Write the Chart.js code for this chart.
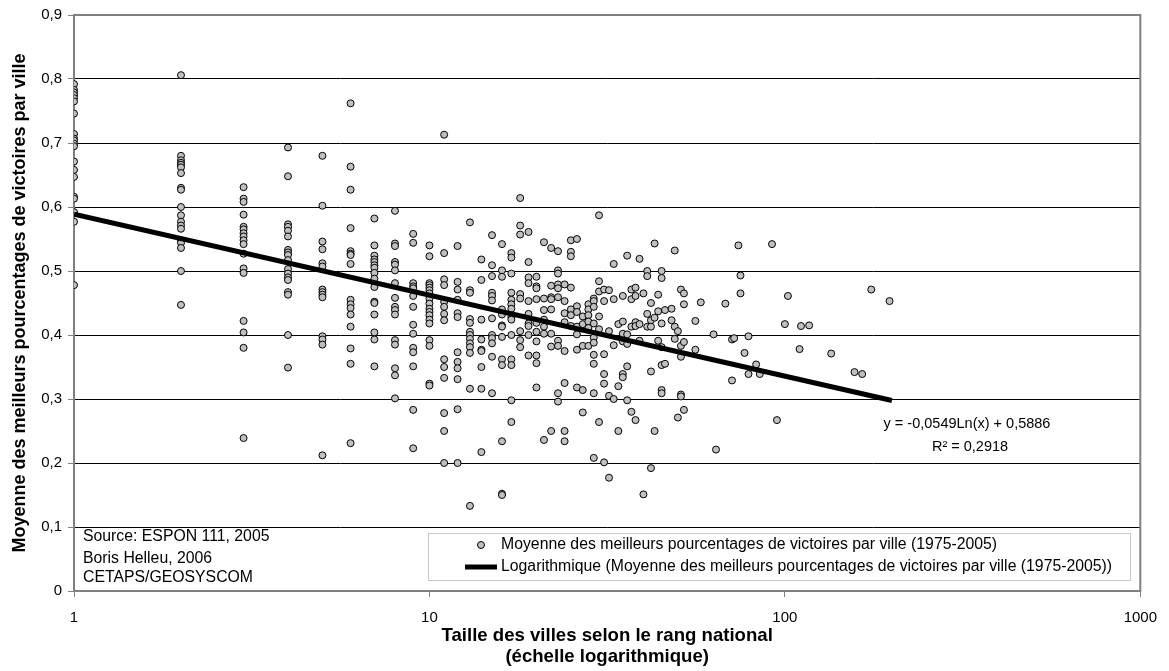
<!DOCTYPE html>
<html lang="fr">
<head>
<meta charset="utf-8">
<title>Moyenne des meilleurs pourcentages de victoires par ville</title>
<script src="https://cdn.jsdelivr.net/npm/chart.js@4.4.1/dist/chart.umd.min.js"></script>
<style>
    html, body { margin: 0; padding: 0; background: #fff; }
    canvas { display: block; }
</style>
</head>
<body>
<canvas id="graphique" width="1169" height="671"></canvas>
<script>
// === DONNÉES ===
// rang national de la ville (échelle log) et moyennes observées pour ce rang
const rangs = [1, 2, 3, 4, 5, 6, 7, 8, 9, 10, 11, 12, 13, 14, 15, 16, 17, 18, 19, 20,
    21, 22, 23, 24, 25, 26, 27, 28, 29, 30, 31, 32, 33, 34, 35, 36, 37, 38, 39, 40,
    41, 42, 43, 44, 45, 46, 48, 49, 50, 51, 52, 56, 58, 63, 64, 68, 71, 72, 74, 75,
    77, 79, 83, 85, 92, 95, 100, 102, 110, 111, 117, 135, 157, 165, 175, 197];

const moyennes = [
    [0.792, 0.783, 0.779, 0.775, 0.770, 0.765, 0.746, 0.714, 0.707, 0.704, 0.699, 0.695, 0.671, 0.658, 0.647, 0.616, 0.613, 0.592, 0.577, 0.478],
    [0.806, 0.680, 0.673, 0.669, 0.666, 0.662, 0.653, 0.630, 0.627, 0.600, 0.587, 0.577, 0.571, 0.566, 0.548, 0.544, 0.536, 0.500, 0.447],
    [0.631, 0.613, 0.608, 0.588, 0.569, 0.565, 0.559, 0.554, 0.548, 0.542, 0.527, 0.504, 0.497, 0.422, 0.404, 0.380, 0.239],
    [0.693, 0.648, 0.573, 0.569, 0.563, 0.554, 0.533, 0.529, 0.525, 0.517, 0.503, 0.496, 0.490, 0.486, 0.467, 0.463, 0.400, 0.349],
    [0.680, 0.602, 0.546, 0.534, 0.512, 0.507, 0.471, 0.467, 0.463, 0.459, 0.398, 0.393, 0.385, 0.212],
    [0.762, 0.663, 0.627, 0.567, 0.531, 0.527, 0.525, 0.511, 0.455, 0.448, 0.442, 0.432, 0.413, 0.379, 0.355, 0.231],
    [0.582, 0.540, 0.524, 0.518, 0.514, 0.509, 0.505, 0.497, 0.488, 0.475, 0.452, 0.450, 0.432, 0.404, 0.393, 0.351],
    [0.594, 0.543, 0.539, 0.514, 0.510, 0.501, 0.481, 0.458, 0.444, 0.439, 0.432, 0.392, 0.385, 0.348, 0.337, 0.301],
    [0.558, 0.544, 0.481, 0.476, 0.473, 0.461, 0.444, 0.416, 0.402, 0.380, 0.373, 0.351, 0.283, 0.223],
    [0.540, 0.523, 0.481, 0.478, 0.474, 0.470, 0.465, 0.457, 0.449, 0.441, 0.436, 0.431, 0.424, 0.418, 0.392, 0.383, 0.324, 0.321],
    [0.713, 0.528, 0.487, 0.478, 0.452, 0.444, 0.433, 0.423, 0.362, 0.350, 0.333, 0.278, 0.250, 0.200],
    [0.539, 0.483, 0.471, 0.455, 0.434, 0.428, 0.373, 0.358, 0.348, 0.331, 0.284, 0.200],
    [0.576, 0.470, 0.466, 0.425, 0.419, 0.405, 0.400, 0.394, 0.387, 0.381, 0.372, 0.316, 0.133],
    [0.518, 0.486, 0.424, 0.393, 0.377, 0.375, 0.350, 0.316, 0.217],
    [0.556, 0.509, 0.492, 0.466, 0.461, 0.454, 0.426, 0.400, 0.395, 0.387, 0.366, 0.309],
    [0.542, 0.501, 0.491, 0.440, 0.432, 0.415, 0.413, 0.397, 0.362, 0.353, 0.234, 0.152, 0.150],
    [0.528, 0.521, 0.496, 0.466, 0.455, 0.448, 0.441, 0.428, 0.424, 0.400, 0.362, 0.353, 0.298, 0.264],
    [0.614, 0.571, 0.557, 0.464, 0.457, 0.406, 0.392, 0.381],
    [0.561, 0.514, 0.490, 0.481, 0.453, 0.433, 0.418, 0.414, 0.400, 0.368],
    [0.491, 0.476, 0.473, 0.456, 0.419, 0.405, 0.390, 0.368, 0.356, 0.318],
    [0.545, 0.457, 0.439, 0.424, 0.413, 0.402, 0.236],
    [0.536, 0.477, 0.459, 0.456, 0.440, 0.402, 0.382, 0.250],
    [0.531, 0.501, 0.496, 0.479, 0.473, 0.459, 0.391, 0.383, 0.309, 0.296],
    [0.479, 0.453, 0.434, 0.420, 0.375, 0.325, 0.250, 0.234],
    [0.548, 0.530, 0.523, 0.474, 0.440, 0.431, 0.414],
    [0.550, 0.445, 0.436, 0.413, 0.401, 0.377, 0.318],
    [0.429, 0.417, 0.383, 0.314, 0.279],
    [0.448, 0.440, 0.431, 0.421, 0.411, 0.383],
    [0.457, 0.453, 0.444, 0.418, 0.396, 0.388, 0.369, 0.355, 0.309, 0.208],
    [0.587, 0.484, 0.468, 0.429, 0.409, 0.264],
    [0.471, 0.453, 0.370, 0.339, 0.324, 0.201],
    [0.470, 0.406, 0.305, 0.177],
    [0.511, 0.456, 0.384, 0.300],
    [0.417, 0.320, 0.250],
    [0.461, 0.421, 0.402, 0.390, 0.339, 0.334],
    [0.524, 0.401, 0.386, 0.351, 0.298],
    [0.471, 0.456, 0.413, 0.280],
    [0.474, 0.461, 0.420, 0.414, 0.267],
    [0.519, 0.417, 0.391],
    [0.465, 0.151],
    [0.500, 0.492, 0.433, 0.413],
    [0.450, 0.423, 0.413, 0.343, 0.192],
    [0.543, 0.427, 0.250],
    [0.463, 0.437, 0.391],
    [0.500, 0.489, 0.418, 0.381, 0.353, 0.314, 0.309],
    [0.439, 0.355],
    [0.441, 0.423],
    [0.532, 0.413, 0.394],
    [0.406, 0.271],
    [0.471, 0.383, 0.366, 0.307, 0.304],
    [0.465, 0.448, 0.389, 0.283],
    [0.422, 0.377],
    [0.451],
    [0.401],
    [0.221],
    [0.449],
    [0.393, 0.329],
    [0.395],
    [0.540],
    [0.493, 0.465],
    [0.372],
    [0.398, 0.339],
    [0.354],
    [0.339],
    [0.542],
    [0.267],
    [0.417],
    [0.461],
    [0.378],
    [0.414],
    [0.415],
    [0.371],
    [0.342],
    [0.339],
    [0.471],
    [0.453]
];

// courbe de tendance logarithmique (droite sur l'axe log) : extrémités lues
const tendanceRangs = [1, 200];
const tendanceValeurs = [0.5886, 0.2977];

// graduations
const graduationsX = [1, 10, 100, 1000];
const graduationsY = ['0', '0,1', '0,2', '0,3', '0,4', '0,5', '0,6', '0,7', '0,8', '0,9'];

const libelleSerie = 'Moyenne des meilleurs pourcentages de victoires par ville (1975-2005)';
const libelleTendance = 'Logarithmique (Moyenne des meilleurs pourcentages de victoires par ville (1975-2005))';
const equation = 'y = -0,0549Ln(x) + 0,5886';
const coefR2 = 'R² = 0,2918';
const sourceLignes = ['Source: ESPON 111, 2005', 'Boris Helleu, 2006', 'CETAPS/GEOSYSCOM'];

const POLICE = "'Liberation Sans', Arial, sans-serif";

// --- construction des points ---
const points = rangs.flatMap((r, i) => moyennes[i].map(v => ({ x: r, y: v })));
const tendance = tendanceRangs.map((r, i) => ({ x: r, y: tendanceValeurs[i] }));

// cadre gris de la zone de tracé
const cadrePlugin = {
    id: 'cadre',
    beforeDatasetsDraw(chart) {
        const { ctx, chartArea: a } = chart;
        ctx.save();
        ctx.strokeStyle = '#808080';
        ctx.lineWidth = 2;
        ctx.strokeRect(a.left, a.top, a.right - a.left, a.bottom - a.top);
        ctx.restore();
    }
};

// légende, équation et source dessinées dans la zone de tracé
const textesPlugin = {
    id: 'textes',
    afterDraw(chart) {
        const ctx = chart.ctx;
        ctx.save();

        // équation de la tendance
        ctx.fillStyle = '#000';
        ctx.font = '14.5px ' + POLICE;
        ctx.textAlign = 'center';
        ctx.textBaseline = 'middle';
        ctx.fillText(equation, 967, 424);
        ctx.fillText(coefR2, 970, 447);

        // source
        ctx.textAlign = 'left';
        ctx.font = '15.8px ' + POLICE;
        ctx.fillText(sourceLignes[0], 83, 537);
        ctx.fillText(sourceLignes[1], 83, 559);
        ctx.fillText(sourceLignes[2], 83, 578);

        // boîte de légende
        const bx = 428, by = 533, bw = 702, bh = 47;
        ctx.fillStyle = '#fff';
        ctx.fillRect(bx, by, bw, bh);
        ctx.strokeStyle = '#c8c8c8';
        ctx.lineWidth = 1;
        ctx.strokeRect(bx + 0.5, by + 0.5, bw, bh);

        ctx.beginPath();
        ctx.arc(481, 545, 3.5, 0, Math.PI * 2);
        ctx.fillStyle = '#c0c0c0';
        ctx.fill();
        ctx.strokeStyle = '#000';
        ctx.stroke();

        ctx.beginPath();
        ctx.moveTo(465, 567);
        ctx.lineTo(497, 567);
        ctx.lineWidth = 5;
        ctx.stroke();

        ctx.fillStyle = '#000';
        ctx.font = '15.8px ' + POLICE;
        ctx.fillText(libelleSerie, 501, 545);
        ctx.fillText(libelleTendance, 501, 567);
        ctx.restore();
    }
};

const ctx = document.getElementById('graphique');

new Chart(ctx, {
    type: 'scatter',
    data: {
        datasets: [
            {
                type: 'line',
                label: libelleTendance,
                data: tendance,
                borderColor: '#000',
                borderWidth: 5,
                borderCapStyle: 'butt',
                pointRadius: 0,
                fill: false,
                tension: 0,
                order: 0
            },
            {
                type: 'scatter',
                label: libelleSerie,
                data: points,
                pointRadius: 3.5,
                pointBackgroundColor: '#c0c0c0',
                pointBorderColor: '#000',
                pointBorderWidth: 1,
                order: 1
            }
        ]
    },
    options: {
        responsive: false,
        animation: false,
        events: [],
        layout: { padding: { left: 0, right: 23, top: 15, bottom: 0 } },
        scales: {
            x: {
                type: 'logarithmic',
                min: 1,
                max: 1000,
                afterBuildTicks: (scale) => { scale.ticks = graduationsX.map(v => ({ value: v })); },
                afterFit: (scale) => { scale.height = 80; },
                ticks: {
                    autoSkip: false,
                    maxRotation: 0,
                    padding: 12,
                    color: '#000',
                    font: { family: POLICE, size: 15 },
                    callback: (value) => String(value)
                },
                grid: { drawOnChartArea: false, tickLength: 6, tickColor: '#808080' },
                border: { display: false },
                title: {
                    display: true,
                    text: ['Taille des villes selon le rang national', '(échelle logarithmique)'],
                    color: '#000',
                    font: { family: POLICE, size: 18.6, weight: 'bold', lineHeight: 1.13 },
                    padding: { top: 0, bottom: 3.5 }
                }
            },
            y: {
                min: 0,
                max: 0.9,
                afterFit: (scale) => { scale.width = 74; },
                ticks: {
                    stepSize: 0.1,
                    padding: 6,
                    color: '#000',
                    font: { family: POLICE, size: 15 },
                    callback: (value) => graduationsY[Math.round(value * 10)]
                },
                grid: {
                    color: (c) => {
                        const k = Math.round(c.tick.value * 10);
                        return (k === 0 || k === 9) ? 'rgba(0,0,0,0)' : '#000';
                    },
                    lineWidth: 1,
                    tickLength: 6,
                    tickColor: '#808080'
                },
                border: { display: false },
                title: {
                    display: true,
                    text: 'Moyenne des meilleurs pourcentages de victoires par ville',
                    color: '#000',
                    font: { family: POLICE, size: 18, weight: 'bold' },
                    padding: { top: 9, bottom: 0 }
                }
            }
        },
        plugins: {
            legend: { display: false },
            tooltip: { enabled: false }
        }
    },
    plugins: [cadrePlugin, textesPlugin]
});
</script>
</body>
</html>
